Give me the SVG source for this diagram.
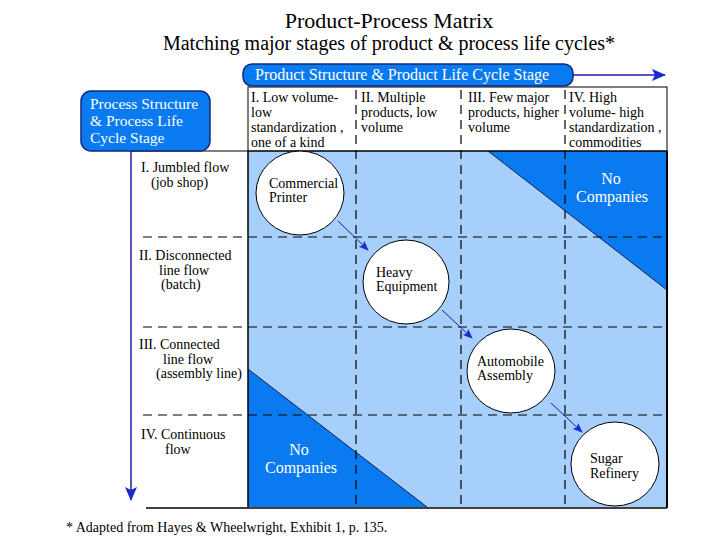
<svg xmlns="http://www.w3.org/2000/svg" width="720" height="540" viewBox="0 0 720 540">
<defs>
<style>
text{font-family:"Liberation Serif","Times New Roman",serif;fill:#000}
.t{font-size:14px}
.h{font-size:14px}
.w{fill:#fff}
.dash{stroke:#000;stroke-width:1.2;stroke-dasharray:9,6;fill:none}
.node{fill:#fff;stroke:#000;stroke-width:1}
.con{stroke:#1a1aa0;stroke-width:1;fill:none}
.axis{stroke:#1a1aa0;stroke-width:1.5;fill:none}
</style>
<marker id="ah" markerWidth="10" markerHeight="8" refX="9" refY="4" orient="auto" markerUnits="userSpaceOnUse">
<path d="M0,0 L10,4 L0,8 L2,4 Z" fill="#1a2ad0"/>
</marker>
<marker id="ah2" markerWidth="14" markerHeight="12" refX="13" refY="6" orient="auto" markerUnits="userSpaceOnUse">
<path d="M0,0 L14,6 L0,12 L3,6 Z" fill="#1a2ad0"/>
</marker>
</defs>
<rect width="720" height="540" fill="#fff"/>
<text x="389" y="28" text-anchor="middle" font-size="22">Product-Process Matrix</text>
<text x="389" y="50" text-anchor="middle" font-size="20">Matching major stages of product &amp; process life cycles*</text>

<!-- matrix background -->
<rect x="248" y="151" width="419" height="356" fill="#a6d0fb"/>
<polygon points="488,151 667,151 667,290" fill="#0a7af0"/>
<line x1="488" y1="151" x2="667" y2="290" stroke="#102050" stroke-width="1"/>
<polygon points="248,369 427,507 248,507" fill="#0a7af0"/>
<line x1="248" y1="369" x2="427" y2="507" stroke="#102050" stroke-width="1"/>

<!-- grid -->
<g id="grid">
<rect x="248" y="87" width="419" height="64" fill="#fff" stroke="#000" stroke-width="1"/>
<line class="dash" x1="356" y1="90" x2="356" y2="507"/>
<line class="dash" x1="461" y1="90" x2="461" y2="507"/>
<line class="dash" x1="565" y1="90" x2="565" y2="507"/>
<line class="dash" x1="143" y1="237" x2="667" y2="237"/>
<line class="dash" x1="143" y1="327" x2="667" y2="327"/>
<line class="dash" x1="143" y1="415" x2="667" y2="415"/>
<line x1="132" y1="151" x2="667" y2="151" stroke="#000" stroke-width="1.2"/>
<line x1="248" y1="151" x2="248" y2="507" stroke="#000" stroke-width="1.5"/>
<line x1="146" y1="508" x2="667" y2="508" stroke="#000" stroke-width="1.5"/>
<line x1="667" y1="151" x2="667" y2="508" stroke="#000" stroke-width="2"/>
</g>

<!-- axis boxes -->
<g id="product-axis">
<rect x="243" y="64" width="330" height="22" rx="9" fill="#0a7af0" stroke="#102a7a" stroke-width="1.5"/>
<text class="w" x="255" y="80" font-size="16">Product Structure &amp; Product Life Cycle Stage</text>
</g>
<g id="process-axis">
<rect x="81" y="91" width="129" height="60" rx="10" fill="#0a7af0" stroke="#102a7a" stroke-width="1.5"/>
<text class="w" x="90" y="109" font-size="15.5">Process Structure</text>
<text class="w" x="90" y="126" font-size="15.5">&amp; Process Life</text>
<text class="w" x="90" y="143" font-size="15.5">Cycle Stage</text>
</g>

<!-- column headers -->
<g id="col1">
<text class="h" x="251" y="102">I. Low volume-</text>
<text class="h" x="251" y="117">low</text>
<text class="h" x="251" y="132">standardization ,</text>
<text class="h" x="251" y="147">one of a kind</text>
</g>
<g id="col2">
<text class="h" x="361" y="102">II.  Multiple</text>
<text class="h" x="361" y="117">products, low</text>
<text class="h" x="361" y="132">volume</text>
</g>
<g id="col3">
<text class="h" x="468" y="102">III. Few major</text>
<text class="h" x="468" y="117">products, higher</text>
<text class="h" x="468" y="132">volume</text>
</g>
<g id="col4">
<text class="h" x="569" y="102">IV.  High</text>
<text class="h" x="569" y="117">volume- high</text>
<text class="h" x="569" y="132">standardization ,</text>
<text class="h" x="569" y="147">commodities</text>
</g>

<!-- row headers -->
<g id="row1">
<text class="h" x="141" y="172">I. Jumbled flow</text>
<text class="h" x="151" y="187">(job shop)</text>
</g>
<g id="row2">
<text class="h" x="139" y="260">II.  Disconnected</text>
<text class="h" x="159" y="275">line flow</text>
<text class="h" x="161" y="289">(batch)</text>
</g>
<g id="row3">
<text class="h" x="139" y="349">III.  Connected</text>
<text class="h" x="163" y="364">line flow</text>
<text class="h" x="156" y="378">(assembly line)</text>
</g>
<g id="row4">
<text class="h" x="141" y="439">IV.  Continuous</text>
<text class="h" x="165" y="454">flow</text>
</g>

<!-- no companies -->
<g id="nc-top">
<text class="w" x="611" y="184" text-anchor="middle" font-size="16">No</text>
<text class="w" x="612" y="202" text-anchor="middle" font-size="16">Companies</text>
</g>
<g id="nc-bottom">
<text class="w" x="299" y="455" text-anchor="middle" font-size="16">No</text>
<text class="w" x="301" y="473" text-anchor="middle" font-size="16">Companies</text>
</g>

<!-- connectors -->
<g id="connectors">
<line class="axis" x1="573" y1="75" x2="665" y2="75" marker-end="url(#ah2)"/>
<line class="axis" x1="131" y1="151" x2="131" y2="500" marker-end="url(#ah2)"/>
<line class="con" x1="338" y1="221" x2="368" y2="250" marker-end="url(#ah)"/>
<line class="con" x1="442" y1="310" x2="472" y2="338" marker-end="url(#ah)"/>
<line class="con" x1="551" y1="403" x2="582" y2="432" marker-end="url(#ah)"/>
</g>

<!-- nodes -->
<g id="commercial-printer">
<ellipse class="node" cx="300" cy="193" rx="44" ry="42"/>
<text class="t" x="269" y="188">Commercial</text>
<text class="t" x="269" y="202">Printer</text>
</g>
<g id="heavy-equipment">
<ellipse class="node" cx="406" cy="282" rx="43" ry="42"/>
<text class="t" x="376" y="277">Heavy</text>
<text class="t" x="376" y="291">Equipment</text>
</g>
<g id="automobile-assembly">
<ellipse class="node" cx="511" cy="371" rx="44" ry="42"/>
<text class="t" x="477" y="366">Automobile</text>
<text class="t" x="477" y="380">Assembly</text>
</g>
<g id="sugar-refinery">
<ellipse class="node" cx="615" cy="464" rx="44" ry="42"/>
<text class="t" x="590" y="463">Sugar</text>
<text class="t" x="590" y="478">Refinery</text>
</g>

<text x="66" y="532" font-size="14">* Adapted from Hayes &amp; Wheelwright, Exhibit 1, p. 135.</text>
</svg>
